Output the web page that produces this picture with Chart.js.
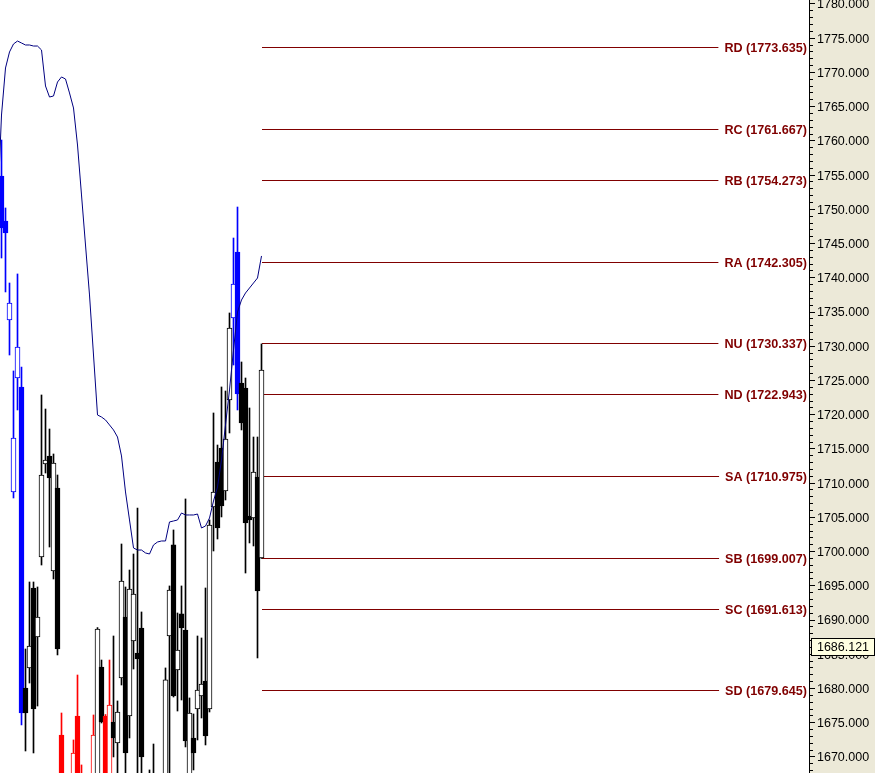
<!DOCTYPE html>
<html><head><meta charset="utf-8">
<script src="https://cdn.jsdelivr.net/npm/chart.js@4.4.1/dist/chart.umd.min.js"></script>
<style>html,body{margin:0;padding:0;background:#fff;overflow:hidden}#wrap{width:875px;height:773px}</style>
</head><body><div id="wrap"><canvas id="c" width="875" height="773"></canvas></div>
<script>
// ---- data (bar index 0..65) ----
const opens = [1754.87,1748.30,1733.84,1708.71,1725.36,1724.05,1680.07,1683.00,1694.68,1687.53,
  1699.21,1712.80,1713.97,1697.17,1709.29,1673.21,null,null,1665.0,1675.98,
  1666.5,null,null,1664.0,1666.0,1683.14,1675.98,1665.0,1675.11,1672.04,
  1681.54,1690.45,1675.98,1686.94,1685.19,1688.84,null,1667.0,1667.0,null,
  null,1666.0,1687.67,1700.97,1682.70,1690.89,1688.55,1666.0,1672.77,1677.01,
  1678.91,1681.08,1677.01,1706.52,1713.09,1715.14,1708.85,1722.15,1734.13,1743.77,
  1724.63,1723.90,1705.20,1704.91,1710.90,1699.07];
const highs = [1760.13,1750.20,1739.24,1726.39,1740.56,1726.97,1685.77,1695.56,1695.56,1694.83,
  1722.88,1720.83,1717.91,1714.26,1711.19,1676.42,null,null,1672.48,1681.97,
  1668.83,null,null,1676.13,1688.90,1684.16,1676.20,1684.16,1687.67,1678.18,
  1701.11,1694.83,1697.31,1699.65,1706.37,1691.18,null,1668.10,1671.89,null,
  null,1683.00,1694.98,1703.16,1691.03,1694.98,1707.69,1678.62,1676.28,1687.67,
  1687.38,1694.68,1704.62,1720.25,1715.57,1724.05,1723.46,1734.86,1745.81,1750.34,
  1727.70,1725.36,1720.98,1716.74,1716.74,1730.34];
const lows = [1742.89,1737.93,1728.72,1707.83,1720.69,1674.67,1670.87,1680.80,1670.58,1677.44,
  1698.04,1711.48,1700.67,1696.00,1684.90,1663.0,null,null,1664.0,1663.0,
  1664.0,null,null,1663.0,1665.0,1674.96,1664.0,1664.0,1670.00,1666.0,
  1680.51,1666.0,1672.77,1682.85,1666.0,1666.0,null,1664.0,1664.0,null,
  null,1665.0,1666.0,1678.76,1676.71,1678.32,1671.46,1665.0,1668.10,1672.48,
  1675.69,1671.75,1676.57,1700.09,1701.84,1705.06,1707.54,1717.33,1727.26,1720.69,
  1717.77,1696.87,1701.26,1700.82,1684.46,1699.00];
const closes = [1747.28,1746.55,1736.32,1716.60,1729.89,1676.42,1676.42,1686.21,1677.01,1690.45,
  1711.19,1713.38,1710.75,1712.94,1685.77,1665.0,null,null,1670.58,1664.0,
  1665.0,null,null,1673.21,1688.69,1675.11,1665.0,1677.59,1672.77,1676.57,
  1695.71,1670.58,1694.54,1693.81,1684.31,1670.00,null,1665.5,1665.0,null,
  null,1681.25,1694.39,1678.91,1685.63,1688.84,1672.33,1676.42,1670.58,1679.78,
  1680.66,1673.06,1703.89,1708.71,1703.45,1706.66,1716.45,1732.67,1739.09,1723.02,
  1718.79,1704.18,1704.62,1711.63,1694.24,1726.53];
// 0 = normal bar, 1 = first highlight group, 2 = second highlight group
const highlight = [1,1,1,1,1,1,0,0,0,0, 0,0,0,0,0,2,0,0,2,2, 2,0,0,2,0,0,2,2,0,0,
  0,0,0,0,0,0,0,0,0,0, 0,0,0,0,0,0,0,0,0,0, 0,0,0,0,0,0,0,0,1,1, 0,0,0,0,0,0];
// moving average, first value belongs to bar index -1
const maStart = -1;
const maValues = [1749.91,1763.78,1770.65,1772.99,1774.16,1774.59,1774.30,1774.01,1774.01,1773.86,
  1773.86,1773.28,1768.02,1766.41,1766.56,1768.60,1769.34,1769.04,1767.00,1764.81,
  1759.40,1752.10,1744.79,1737.49,1728.72,1719.96,1719.66,1719.23,1718.50,1717.77,
  1716.74,1713.97,1708.71,1704.62,1700.53,1700.23,1700.23,1699.80,1699.65,1700.97,
  1701.40,1701.55,1701.55,1704.33,1704.47,1704.62,1705.64,1705.35,1705.35,1705.35,
  1705.49,1703.45,1703.74,1704.91,1707.39,1709.44,1713.38,1718.50,1723.61,1729.45,
  1735.00,1736.76,1737.78,1738.51,1739.24,1739.97,1743.19];
const levelNames = ['RD','RC','RB','RA','NU','ND','SA','SB','SC','SD'];
const levelValues = [1773.635,1761.667,1754.273,1742.305,1730.337,1722.943,1710.975,1699.007,1691.613,1679.645];
const lastPrice = 1686.121;
const yMin = 1667.654, yMax = 1780.584;
const tickStep = 1, labelStep = 5;

// ---- styles ----
const BAR_COLORS = ['#000000', '#0000FF', '#FF0000'];
const MA_COLOR = '#000080';
const LEVEL_COLOR = '#800000';
const PANEL_BG = '#ECE9D8';
const FONT = '"Liberation Sans", Arial, sans-serif';

const bodies = [], wicks = [], bodyFill = [], bodyEdge = [], wickFill = [];
for (let i = 0; i < opens.length; i++) {
  if (opens[i] == null) continue;
  const col = BAR_COLORS[highlight[i]];
  const up = closes[i] >= opens[i];
  bodies.push({x: i, y: [Math.min(opens[i], closes[i]), Math.max(opens[i], closes[i])]});
  bodyFill.push(up ? '#FFFFFF' : col);
  bodyEdge.push(col);
  wicks.push({x: i, y: [lows[i], highs[i]]});
  wickFill.push(col);
}
const maData = maValues.map((v, k) => ({x: maStart + k, y: v}));

const levelPlugin = {
  id: 'levels',
  beforeDatasetsDraw(chart) {
    const ctx = chart.ctx, ys = chart.scales.y, xs = chart.scales.x, area = chart.chartArea;
    const xStart = Math.round(xs.getPixelForValue(opens.length - 1));
    ctx.save();
    ctx.font = 'bold 12.6px ' + FONT;
    ctx.textAlign = 'right';
    ctx.textBaseline = 'middle';
    levelNames.forEach((n, k) => {
      const v = levelValues[k];
      const y = Math.floor(ys.getPixelForValue(v)) + 0.5;
      const text = n + ' (' + v.toFixed(3) + ')';
      const tx = area.right - 2;
      const w = ctx.measureText(text).width;
      ctx.strokeStyle = LEVEL_COLOR;
      ctx.lineWidth = 1;
      ctx.beginPath();
      ctx.moveTo(xStart, y);
      ctx.lineTo(tx - w - 6, y);
      ctx.stroke();
      ctx.fillStyle = LEVEL_COLOR;
      ctx.fillText(text, tx, y + 1);
    });
    ctx.restore();
  },
  afterDraw(chart) {
    const ctx = chart.ctx, ys = chart.scales.y;
    const y = Math.round(ys.getPixelForValue(lastPrice));
    const x0 = ys.left + 2, x1 = chart.width;
    ctx.save();
    ctx.fillStyle = '#FFFFE1';
    ctx.fillRect(x0, y - 9, x1 - x0, 18);
    ctx.strokeStyle = '#000';
    ctx.lineWidth = 1;
    ctx.strokeRect(x0 + 0.5, y - 8.5, x1 - x0 - 1, 17);
    ctx.fillStyle = '#000';
    ctx.font = '12.5px ' + FONT;
    ctx.textAlign = 'center';
    ctx.textBaseline = 'middle';
    ctx.fillText(lastPrice.toFixed(3), (x0 + x1) / 2, y + 1);
    ctx.restore();
  }
};

new Chart(document.getElementById('c'), {
  data: {
    datasets: [
      {type: 'line', data: maData, borderColor: MA_COLOR, borderWidth: 1, pointRadius: 0, tension: 0, order: 0},
      {type: 'bar', data: bodies, backgroundColor: bodyFill, borderColor: bodyEdge, borderWidth: 1,
        borderSkipped: false, barThickness: 5, grouped: false, order: 1},
      {type: 'bar', data: wicks, backgroundColor: wickFill, borderWidth: 0,
        barThickness: 1, grouped: false, order: 2}
    ]
  },
  options: {
    responsive: false,
    animation: false,
    devicePixelRatio: 1,
    layout: {padding: 0},
    plugins: {legend: {display: false}, tooltip: {enabled: false}},
    scales: {
      x: {type: 'linear', display: false, min: -0.375, max: 201.875, offset: false},
      y: {
        type: 'linear', position: 'right', min: yMin, max: yMax,
        backgroundColor: PANEL_BG,
        border: {display: true, color: '#000', width: 1, dash: [1, 2]},
        grid: {
          drawOnChartArea: false, drawTicks: true, tickLength: 6, tickColor: '#000', tickWidth: 1,
          tickBorderDash: (c) => {
            const v = c.tick ? c.tick.value : 0;
            return Math.abs(v / labelStep - Math.round(v / labelStep)) < 1e-6 ? [] : [3, 20];
          }
        },
        ticks: {
          stepSize: tickStep, autoSkip: false, includeBounds: false, maxTicksLimit: 500,
          padding: 2, labelOffset: 1, color: '#000', font: {family: FONT, size: 12.5},
          callback: (v) => Math.abs(v / labelStep - Math.round(v / labelStep)) < 1e-6 ? Number(v).toFixed(3) : ''
        },
        afterFit: (s) => { s.width = 66; s.paddingTop = 0; s.paddingBottom = 0; }
      }
    }
  },
  plugins: [levelPlugin]
});
</script>
</body></html>
